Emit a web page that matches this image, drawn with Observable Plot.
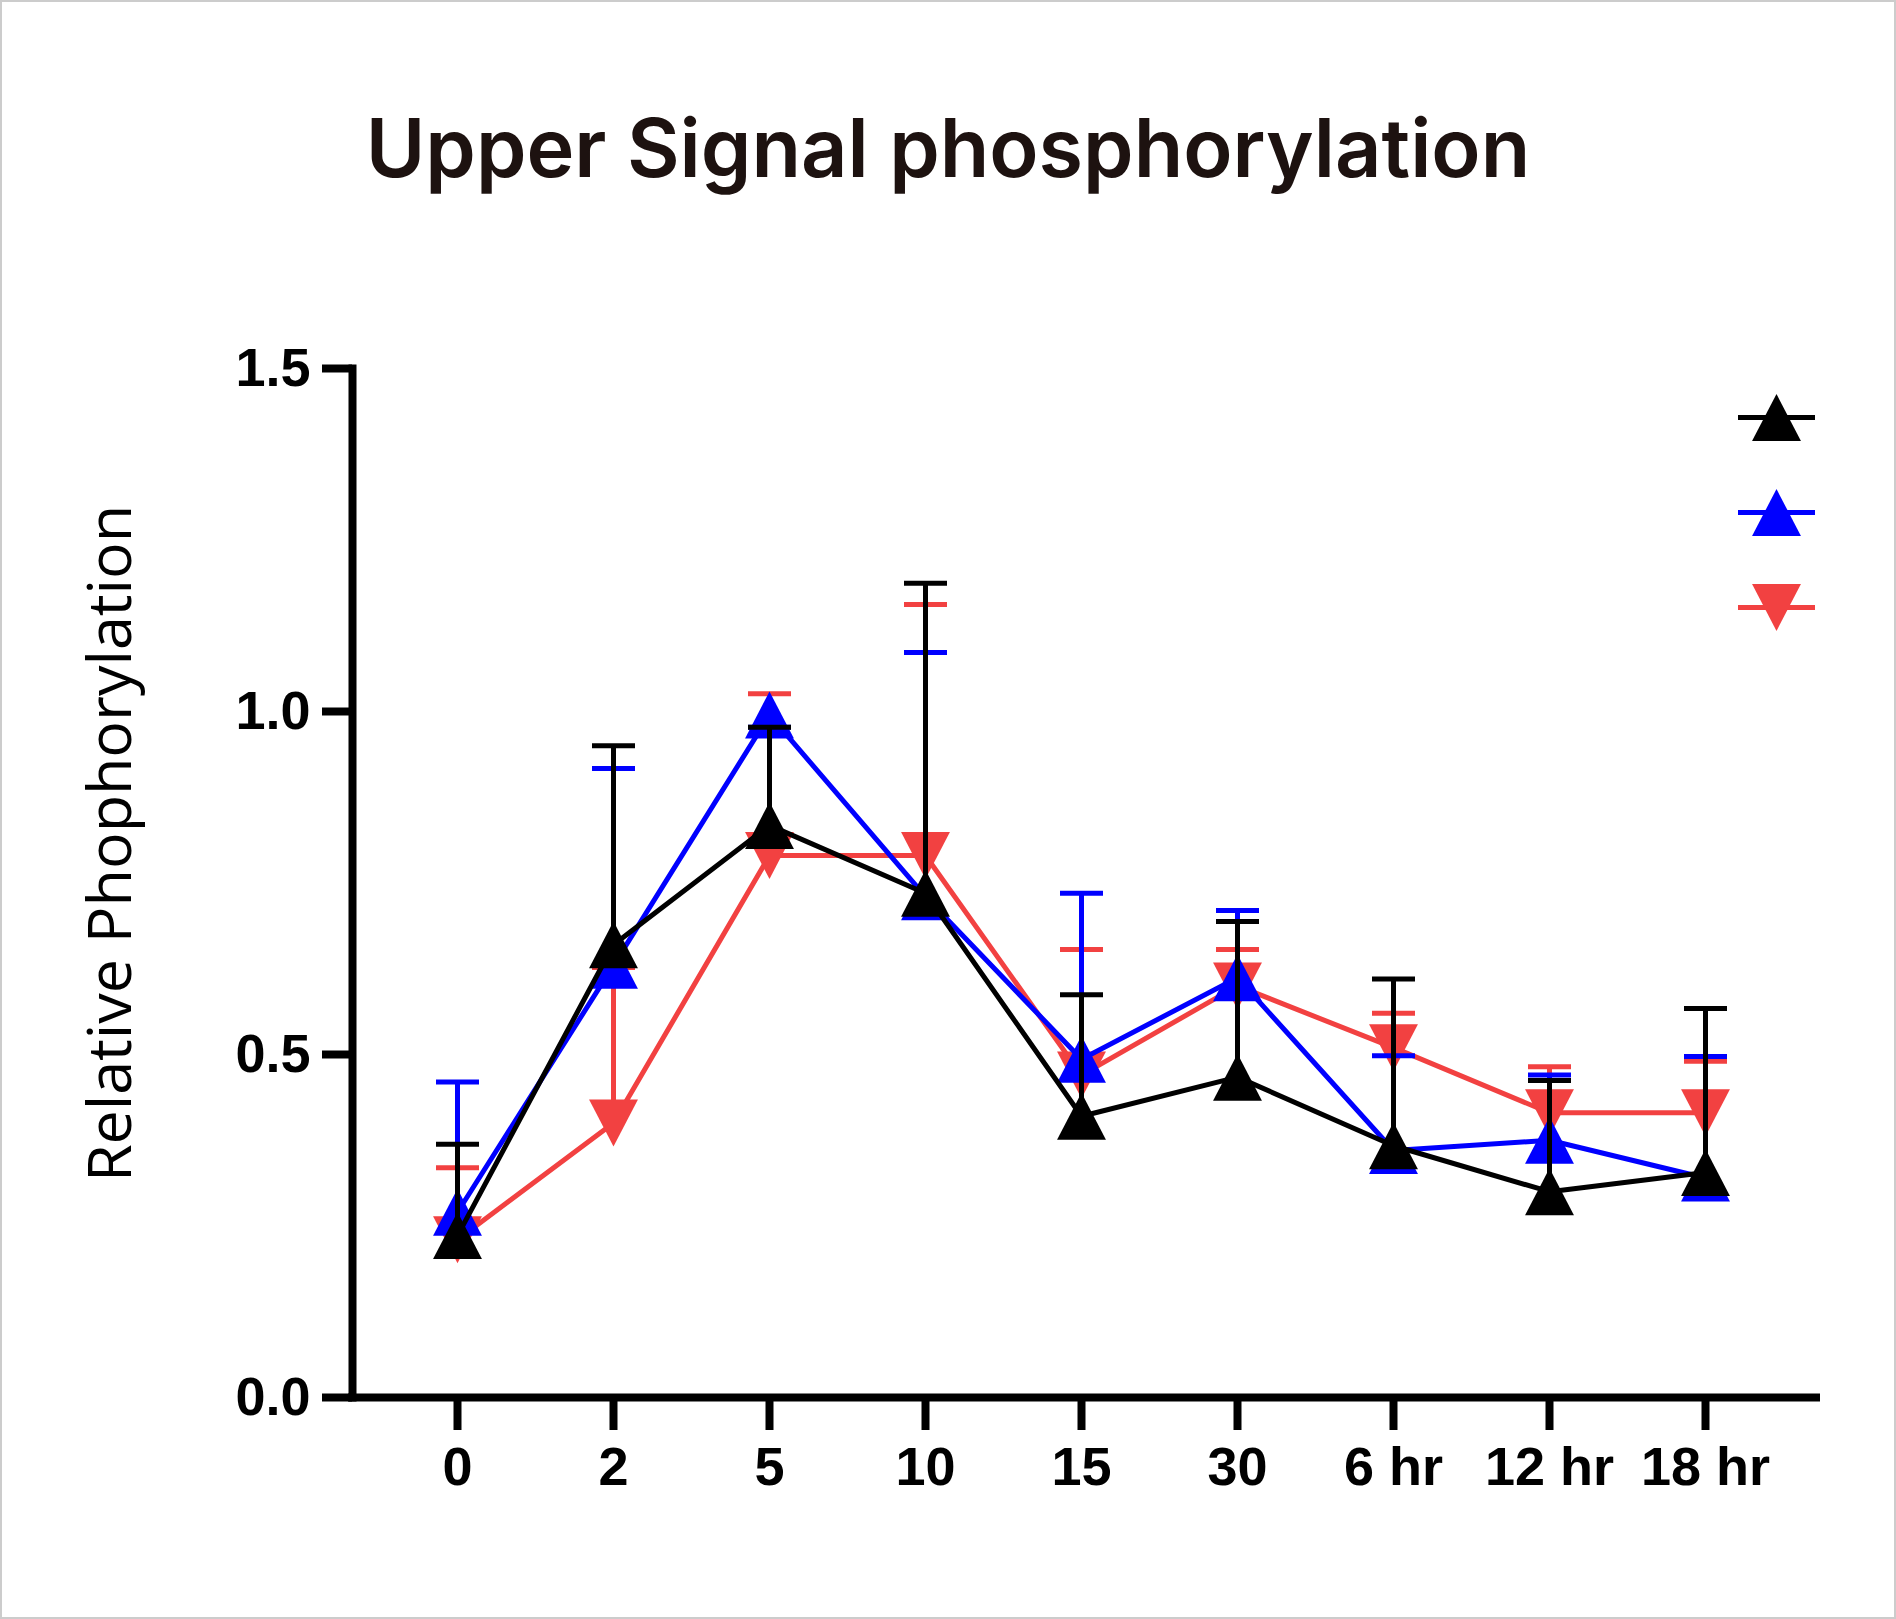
<!DOCTYPE html>
<html>
<head>
<meta charset="utf-8">
<script src="https://cdn.jsdelivr.net/npm/d3@7"></script>
<script src="https://cdn.jsdelivr.net/npm/@observablehq/plot@0.6"></script>
<style>
  html, body { margin: 0; padding: 0; background: #fff; }
  #wrap { position: relative; width: 1896px; height: 1619px; background: #fff; box-shadow: inset 0 0 0 2px #cccccc; overflow: hidden; }
  #title { position: absolute; left: 0; top: 108px; width: 1896px; text-align: center; font-family: Inter, "Noto Sans", sans-serif; font-weight: 600; font-size: 81px; line-height: 80px; color: #1d1210; white-space: nowrap; }
  #chart { position: absolute; left: 0; top: 260px; }
  #legend { position: absolute; left: 1676px; top: 357px; }
</style>
</head>
<body>
<div id="wrap">
  <div id="title">Upper Signal phosphorylation</div>
  <div id="chart"></div>
  <div id="legend"></div>
</div>
<script>
// ---- data ----
const categories = ["0", "2", "5", "10", "15", "30", "6 hr", "12 hr", "18 hr"];
const seriesNames = ["Series 1", "Series 2", "Series 3"];
const seriesColors = ["#000000", "#0000ff", "#f24141"];
const black = [0.236, 0.66, 0.834, 0.735, 0.41, 0.467, 0.367, 0.30, 0.328];
const blackHi = [0.369, 0.95, 0.977, 1.187, 0.587, 0.694, 0.61, 0.462, 0.567];
const blue = [0.27, 0.63, 0.995, 0.73, 0.493, 0.612, 0.36, 0.375, 0.32];
const blueHi = [0.46, 0.917, 0.977, 1.086, 0.735, 0.71, 0.498, 0.47, 0.497];
const red = [0.23, 0.40, 0.79, 0.79, 0.47, 0.60, 0.51, 0.415, 0.415];
const redHi = [0.335, 0.627, 1.026, 1.156, 0.653, 0.653, 0.56, 0.482, 0.49];
const yTicks = [0, 0.5, 1.0, 1.5];
const yLabel = "Relative Phophorylation";

// ---- symbols ----
const triUp = { draw(ctx, size) { const r = Math.sqrt(size / Math.PI); ctx.moveTo(0, -r); ctx.lineTo(r * 1.04, r); ctx.lineTo(-r * 1.04, r); ctx.closePath(); } };
const triDown = { draw(ctx, size) { const r = Math.sqrt(size / Math.PI); ctx.moveTo(0, r); ctx.lineTo(r * 1.04, -r); ctx.lineTo(-r * 1.04, -r); ctx.closePath(); } };
const hbar = { draw(ctx, size) { const r = Math.sqrt(size / Math.PI); ctx.moveTo(-r, 0); ctx.lineTo(r, 0); } };

const rows = (vals, his) => categories.map((t, i) => ({ t, v: vals[i], hi: his[i] }));
const series = [
  { name: seriesNames[2], color: seriesColors[2], data: rows(red, redHi), sym: triDown },
  { name: seriesNames[1], color: seriesColors[1], data: rows(blue, blueHi), sym: triUp },
  { name: seriesNames[0], color: seriesColors[0], data: rows(black, blackHi), sym: triUp }
];

const marks = [];
for (const s of series) {
  marks.push(Plot.ruleX(s.data, { x: "t", y1: "v", y2: "hi", stroke: s.color, strokeWidth: 5 }));
  marks.push(Plot.dot(s.data, { x: "t", y: "hi", symbol: hbar, r: 21.5, stroke: s.color, fill: "none", strokeWidth: 5 }));
  marks.push(Plot.line(s.data, { x: "t", y: "v", stroke: s.color, strokeWidth: 5 }));
  marks.push(Plot.dot(s.data, { x: "t", y: "v", symbol: s.sym, r: 23.5, fill: s.color, stroke: "none" }));
}

const chart = Plot.plot({
  width: 1896,
  height: 1359,
  marginTop: 108,
  marginBottom: 222,
  marginLeft: 352,
  marginRight: 80,
  style: { fontFamily: "'Liberation Sans', Arial, sans-serif", background: "transparent", overflow: "visible", color: "#000" },
  x: { type: "point", domain: categories, padding: 0.677, align: 0.486 },
  y: { domain: [0, 1.5] },
  marks: [
    Plot.axisY({ ticks: yTicks, tickFormat: d3.format(".1f"), tickSize: 30, tickPadding: 12, strokeWidth: 8, fontSize: 54, fontWeight: "bold", label: null }),
    Plot.axisX({ tickSize: 33, tickPadding: 16, strokeWidth: 8, fontSize: 54, fontWeight: "bold", label: null }),
    Plot.frame({ anchor: "left", strokeWidth: 8, strokeLinecap: "square" }),
    Plot.ruleY([0], { strokeWidth: 8, strokeLinecap: "square" }),
    Plot.text([yLabel], { text: d => d, frameAnchor: "left", rotate: -90, dx: -222, dy: -39.5, textAnchor: "middle", lineAnchor: "bottom", fontSize: 61, fontFamily: "'Open Sans', sans-serif", fontWeight: "normal", fill: "#000" }),
    ...marks
  ]
});
document.getElementById("chart").append(chart);

// ---- legend ----
const legendRows = seriesNames.map((n, i) => ({ n, c: seriesColors[i], sym: i === 2 ? triDown : triUp }));
const legend = Plot.plot({
  width: 200, height: 300, margin: 0,
  style: { background: "transparent", overflow: "visible" },
  x: { domain: [0, 1], axis: null },
  y: { type: "point", domain: seriesNames, range: [60, 250], padding: 0, axis: null },
  marks: [
    Plot.dot(legendRows, { x: () => 0.5, y: "n", symbol: hbar, r: 38.5, stroke: "c", fill: "none", strokeWidth: 5 }),
    Plot.dot(legendRows.filter(d => d.sym === triUp), { x: () => 0.5, y: "n", symbol: triUp, r: 23.5, fill: "c", stroke: "none" }),
    Plot.dot(legendRows.filter(d => d.sym === triDown), { x: () => 0.5, y: "n", symbol: triDown, r: 23.5, fill: "c", stroke: "none" })
  ]
});
document.getElementById("legend").append(legend);
</script>
</body>
</html>
